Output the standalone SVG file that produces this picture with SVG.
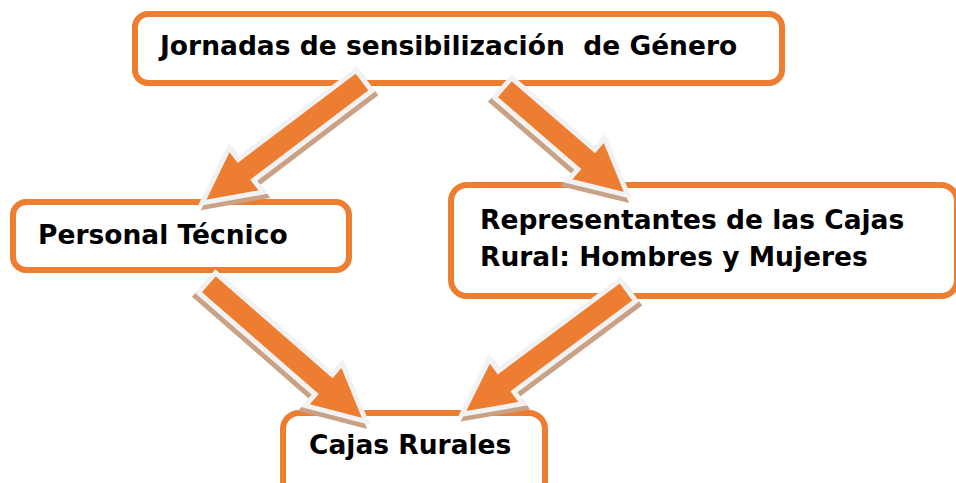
<svg xmlns="http://www.w3.org/2000/svg" xmlns:xlink="http://www.w3.org/1999/xlink" width="956" height="483" viewBox="0 0 956 483">
<style>
.box{fill:#ffffff;stroke:#ED7D31;stroke-width:6}
.lbl{font-family:"DejaVu Sans","Verdana",sans-serif;font-weight:bold;font-size:26.5px;fill:#000000}
.arrow{fill:#ED7D31;stroke:#F2F2F2;stroke-width:5;stroke-linejoin:miter}
.shadow{fill:#C9A286;stroke:#C9A286;stroke-width:5;stroke-linejoin:miter}
</style>
<defs>
<path id="a1" d="M0,-13 L148,-13 L148,-28 L203,0 L148,28 L148,13 L0,13 Z" transform="translate(364,80.5) rotate(142.9)"/>
<path id="a2" d="M0,-13 L110,-13 L110,-28 L165,0 L110,28 L110,13 L0,13 Z" transform="translate(503,87.6) rotate(40.8)"/>
<path id="a3" d="M0,-13 L155,-13 L155,-28 L211,0 L155,28 L155,13 L0,13 Z" transform="translate(207,282.6) rotate(41.1)"/>
<path id="a4" d="M0,-13 L152,-13 L152,-28 L207,0 L152,28 L152,13 L0,13 Z" transform="translate(628,290.5) rotate(143.3)"/>
</defs>
<g id="node-jornadas">
<rect class="box" x="135" y="14" width="647" height="69" rx="13"/>
<text class="lbl" x="160" y="55" xml:space="preserve">Jornadas de sensibilización  de Género</text>
</g>
<g id="node-personal">
<rect class="box" x="13" y="202" width="336" height="68" rx="13"/>
<text class="lbl" x="38" y="244">Personal Técnico</text>
</g>
<g id="node-representantes">
<rect class="box" x="451" y="185" width="506" height="111" rx="16"/>
<text class="lbl" x="480" y="229">Representantes de las Cajas</text>
<text class="lbl" x="480" y="266">Rural: Hombres y Mujeres</text>
</g>
<g id="node-cajas">
<rect class="box" x="283" y="413" width="262" height="90" rx="16"/>
<text class="lbl" x="309" y="454">Cajas Rurales</text>
</g>
<g id="connectors">
<use xlink:href="#a1" class="shadow" x="3" y="4"/>
<use xlink:href="#a1" class="arrow"/>
<use xlink:href="#a2" class="shadow" x="-3" y="4"/>
<use xlink:href="#a2" class="arrow"/>
<use xlink:href="#a3" class="shadow" x="-3" y="4"/>
<use xlink:href="#a3" class="arrow"/>
<use xlink:href="#a4" class="shadow" x="3" y="4"/>
<use xlink:href="#a4" class="arrow"/>
</g>
</svg>
